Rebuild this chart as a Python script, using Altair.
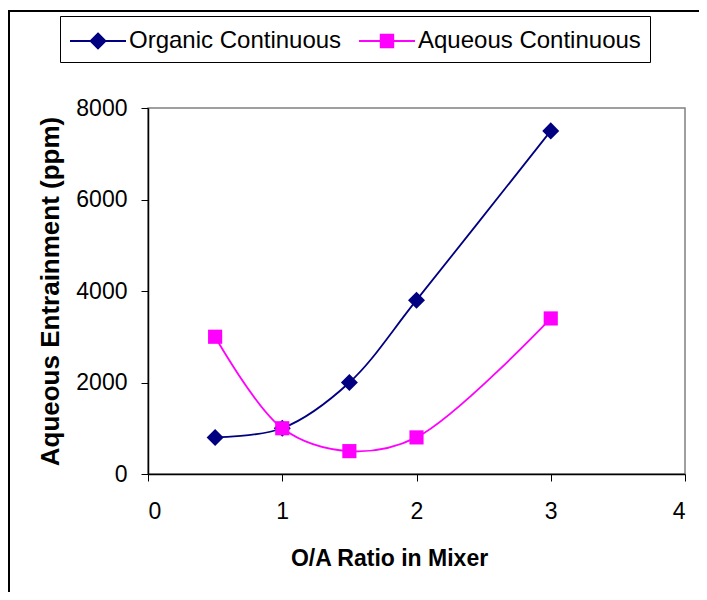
import altair as alt
import pandas as pd

# ---- data ----
x_ratio = [0.5, 1.0, 1.5, 2.0, 3.0]
organic = [800, 1000, 2000, 3800, 7500]
aqueous = [3000, 1000, 500, 800, 3400]
series_names = ["Organic Continuous", "Aqueous Continuous"]
series_colors = ["#000080", "#FF00FF"]
series_shapes = ["diamond", "square"]
series_sizes = [290, 200]
x_ticks = [0, 1, 2, 3, 4]
y_ticks = [0, 2000, 4000, 6000, 8000]

rows = []
for name, vals in zip(series_names, [organic, aqueous]):
    for xv, yv in zip(x_ratio, vals):
        rows.append({"ratio": xv, "ppm": yv, "series": name})
df = pd.DataFrame(rows)

FONT = "Liberation Sans"

path_org = "M-1.867,0H1.867M0,-0.5L0.5,0L0,0.5L-0.5,0Z"
path_aq = "M-1.867,0H1.867M-0.42,-0.42H0.42V0.42H-0.42Z"
test_org = "datum.value == 'Organic Continuous'"

legend = alt.Legend(
    title=None,
    orient="none",
    direction="horizontal",
    legendX=-88,
    legendY=-92,
    strokeColor="black",
    fillColor="white",
    padding=9,
    symbolSize=900,
    symbolOffset=13,
    symbolStrokeWidth=1.8,
    symbolType={"expr": f"{test_org} ? '{path_org}' : '{path_aq}'"},
    symbolFillColor={"expr": f"{test_org} ? '{series_colors[0]}' : '{series_colors[1]}'"},
    symbolStrokeColor={"expr": f"{test_org} ? '{series_colors[0]}' : '{series_colors[1]}'"},
    symbolOpacity=1,
    labelOffset=15,
    columnPadding=13,
    labelFont=FONT,
    labelFontSize=24,
    labelColor="black",
    labelLimit=400,
)

color_scale = alt.Scale(domain=series_names, range=series_colors)

x_enc = alt.X(
    "ratio:Q",
    scale=alt.Scale(domain=[0, 4], nice=False),
    axis=alt.Axis(
        values=x_ticks,
        title="O/A Ratio in Mixer",
        titleX=241,
        titleY=84,
        titleAlign="center",
        titleBaseline="middle",
        titleFontSize=23,
        labelPadding=19,
    ),
)
y_enc = alt.Y(
    "ppm:Q",
    scale=alt.Scale(domain=[0, 8000], nice=False),
    axis=alt.Axis(
        values=y_ticks,
        format="d",
        title="Aqueous Entrainment (ppm)",
        titleAngle=270,
        titleX=-98,
        titleY=183,
        titleAlign="center",
        titleBaseline="middle",
        titleFontSize=26,
        labelPadding=14,
    ),
)

frame_src = alt.Chart(pd.DataFrame({"f": [0]}))
frame_left = frame_src.mark_rule(color="black", strokeWidth=2, clip=False).encode(
    x=alt.value(-139), y=alt.value(-97), y2=alt.value(800)
)
frame_top = frame_src.mark_rule(color="black", strokeWidth=2, clip=False).encode(
    y=alt.value(-97), x=alt.value(-140), x2=alt.value(800)
)

base = alt.Chart(df)
lines = base.mark_line(interpolate="catmull-rom", strokeWidth=1.8).encode(
    x=x_enc, y=y_enc,
    color=alt.Color("series:N", scale=color_scale, legend=legend),
)

point_layers = []
for name, shp, sz in zip(series_names, series_shapes, series_sizes):
    point_layers.append(
        base.transform_filter(alt.datum.series == name)
        .mark_point(filled=True, opacity=1, size=sz, shape=shp)
        .encode(
            x=x_enc,
            y=y_enc,
            color=alt.Color("series:N", scale=color_scale, legend=None),
        )
    )

chart = (
    alt.layer(frame_left, frame_top, lines, *point_layers)
    .properties(
        width=537,
        height=366,
        autosize=alt.AutoSizeParams(type="none"),
        padding={"left": 140, "top": 100, "right": 14, "bottom": 118},
        background="white",
    )
    .configure_view(stroke="#808080", strokeWidth=1.5)
    .configure_axis(
        grid=False,
        domainColor="black",
        domainWidth=1.5,
        tickColor="black",
        tickWidth=1,
        tickSize=7,
        labelFont=FONT,
        labelFontSize=23,
        labelColor="black",
        titleFont=FONT,
        titleFontWeight="bold",
        titleColor="black",
    )
)

chart.save("out.html", embed_options={"renderer": "svg", "actions": False})
